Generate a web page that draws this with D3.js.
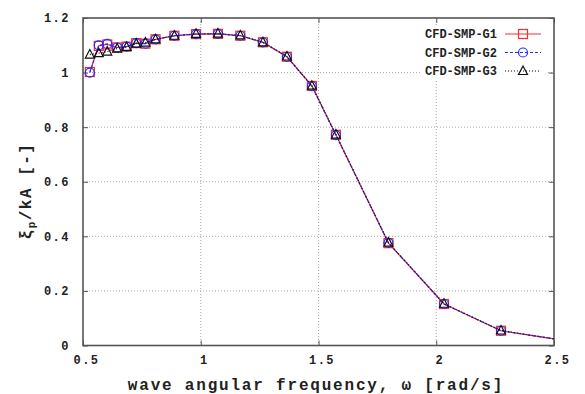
<!DOCTYPE html>
<html><head><meta charset="utf-8">
<script src="https://cdn.jsdelivr.net/npm/d3@7"></script>
<style>
body{margin:0;background:#fff;}
text{font-family:"Courier New","Liberation Mono","DejaVu Sans Mono",monospace;font-weight:bold;fill:#222;}
</style></head>
<body>
<svg id="chart" width="585" height="394"></svg>
<script>
const omega = [0.529,0.567,0.603,0.645,0.685,0.726,0.765,0.808,0.888,0.980,1.073,1.168,1.264,1.366,1.472,1.574,1.797,2.033,2.275,2.6];
const g1 = [1.002,1.098,1.103,1.092,1.095,1.108,1.106,1.122,1.135,1.141,1.142,1.135,1.111,1.058,0.951,0.772,0.375,0.152,0.054,0.011];
const g2 = [1.000,1.100,1.105,1.092,1.095,1.108,1.106,1.122,1.135,1.141,1.142,1.135,1.111,1.058,0.950,0.771,0.376,0.152,0.054,0.011];
const g3 = [1.066,1.071,1.077,1.088,1.094,1.106,1.110,1.122,1.135,1.142,1.143,1.136,1.111,1.059,0.952,0.773,0.377,0.153,0.055,0.011];
const seriesNames = ["CFD-SMP-G1","CFD-SMP-G2","CFD-SMP-G3"];
const xTicks = [0.5,1,1.5,2,2.5];
const yTicks = [0,0.2,0.4,0.6,0.8,1,1.2];

const svg = d3.select("#chart");
const L=83, R=554, T=18, B=345.5;
const x = d3.scaleLinear().domain([0.5,2.5]).range([L,R]);
const y = d3.scaleLinear().domain([0,1.2]).range([B,T]);

svg.append("defs").append("clipPath").attr("id","clip")
  .append("rect").attr("x",L).attr("y",T).attr("width",R-L).attr("height",B-T);

// grid
const grid = svg.append("g");
xTicks.slice(1,-1).forEach(t=>grid.append("line").attr("x1",x(t)).attr("x2",x(t)).attr("y1",T).attr("y2",B)
  .attr("stroke","#aaa").attr("stroke-width",1).attr("stroke-dasharray","1,2"));
yTicks.slice(1,-1).forEach(t=>grid.append("line").attr("x1",L).attr("x2",R).attr("y1",y(t)).attr("y2",y(t))
  .attr("stroke","#aaa").attr("stroke-width",1).attr("stroke-dasharray","1,2"));

// axes with inward ticks
const axB = svg.append("g").attr("transform",`translate(0,${B})`)
  .call(d3.axisBottom(x).tickValues(xTicks).tickSize(-5).tickPadding(10).tickFormat(d3.format(".1~f")));
const axT = svg.append("g").attr("transform",`translate(0,${T})`)
  .call(d3.axisTop(x).tickValues(xTicks).tickSize(-5).tickFormat(""));
const axL = svg.append("g").attr("transform",`translate(${L},0)`)
  .call(d3.axisLeft(y).tickValues(yTicks).tickSize(-5).tickPadding(13).tickFormat(d=>d===0?"0":(d===1?"1":d3.format(".1f")(d))));
const axR = svg.append("g").attr("transform",`translate(${R},0)`)
  .call(d3.axisRight(y).tickValues(yTicks).tickSize(-5).tickFormat(""));
[axB,axT,axL,axR].forEach(a=>{
  a.select(".domain").remove();
  a.selectAll(".tick line").attr("stroke","#555").attr("stroke-width",1);
  a.selectAll("text").attr("font-size",12).style("letter-spacing","1.5px").attr("fill","#222");
});
axB.selectAll("text").attr("dx",3);

svg.append("rect").attr("x",L).attr("y",T).attr("width",R-L).attr("height",B-T)
  .attr("fill","none").attr("stroke","#555").attr("stroke-width",1.6);

// data
const styles = [
  {data:g1,color:"#ff2a2a",dash:null,marker:"square"},
  {data:g2,color:"#2a2aff",dash:"3,2",marker:"circle"},
  {data:g3,color:"#111",dash:"1,2",marker:"triangle"}
];
const plot = svg.append("g").attr("clip-path","url(#clip)");
const line = d3.line().x((d,i)=>x(omega[i])).y(d=>y(d));
function drawMarker(g,type,cx,cy,color){
  if(type==="square") g.append("rect").attr("x",cx-4.5).attr("y",cy-4.5).attr("width",9).attr("height",9)
    .attr("fill","none").attr("stroke",color).attr("stroke-width",1.2);
  else if(type==="circle") g.append("circle").attr("cx",cx).attr("cy",cy).attr("r",4.5)
    .attr("fill","none").attr("stroke",color).attr("stroke-width",1.2);
  else g.append("path").attr("d",`M${cx},${cy-5}L${cx+4.5},${cy+3.5}L${cx-4.5},${cy+3.5}Z`)
    .attr("fill","none").attr("stroke",color).attr("stroke-width",1.2);
}
styles.forEach(s=>{
  plot.append("path").attr("d",line(s.data)).attr("fill","none").attr("stroke",s.color)
    .attr("stroke-width",1.2).attr("stroke-dasharray",s.dash);
  s.data.forEach((v,i)=>{ if(omega[i]<=2.5) drawMarker(plot,s.marker,x(omega[i]),y(v),s.color); });
});

// legend
const lg = svg.append("g");
lg.append("rect").attr("x",421).attr("y",25).attr("width",126).attr("height",54).attr("fill","#fff");
styles.forEach((s,i)=>{
  const yy = 34 + i*18.5;
  lg.append("text").attr("x",497).attr("y",yy+4).attr("text-anchor","end").attr("font-size",12).text(seriesNames[i]);
  lg.append("line").attr("x1",505).attr("x2",541).attr("y1",yy).attr("y2",yy).attr("stroke",s.color)
    .attr("stroke-width",1.2).attr("stroke-dasharray",s.dash);
  drawMarker(lg,s.marker,523,yy,s.color);
});

// axis titles
svg.append("text").attr("x",316).attr("y",390).attr("text-anchor","middle").attr("font-size",16)
  .style("letter-spacing","1.8px").text("wave angular frequency, ω [rad/s]");
const yl = svg.append("text").attr("transform","translate(31,191) rotate(-90)").attr("text-anchor","middle")
  .attr("font-size",16).style("letter-spacing","1.5px");
yl.append("tspan").text("ξ");
yl.append("tspan").attr("font-size",11).attr("dy",4).text("p");
yl.append("tspan").attr("dy",-4).text("/kA [-]");
</script>
</body></html>
